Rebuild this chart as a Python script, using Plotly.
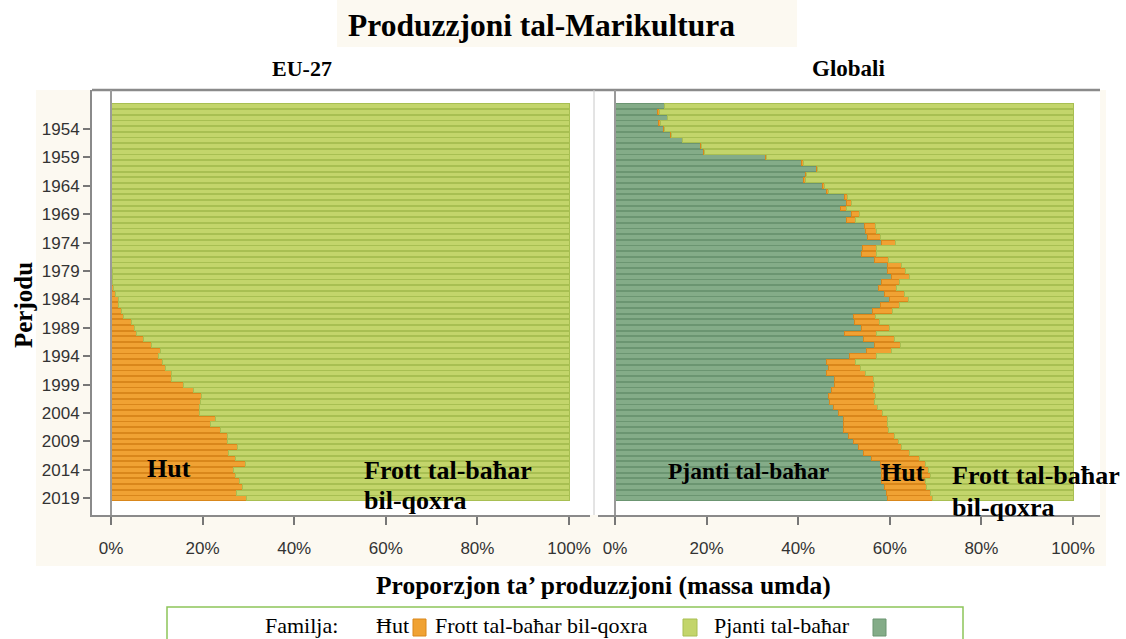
import plotly.graph_objects as go

# ---------------- data ----------------
years = list(range(1950, 2020))
tick_years = list(range(1954, 2020, 5))
x_ticks = [0, 20, 40, 60, 80, 100]
x_tick_labels = ["0%", "20%", "40%", "60%", "80%", "100%"]

series_names = ["Ħut", "Frott tal-baħar bil-qoxra", "Pjanti tal-baħar"]

# EU-27 shares (%)
eu_hut = [0.0] * 29 + [
    0.3, 0.3, 0.4, 0.5, 0.9, 1.6, 1.7, 2.3, 2.7, 4.4,
    5.2, 5.6, 7.2, 8.9, 10.7, 10.3, 11.3, 11.9, 13.1, 13.2,
    15.8, 18.1, 19.8, 19.6, 19.4, 19.4, 22.9, 21.7, 23.8, 25.5,
    25.5, 27.7, 25.6, 27.1, 29.4, 26.8, 27.1, 28.1, 28.8, 27.5,
    29.6]
eu_pjanti = [0.0] * 70

# Global shares (%)
gl_pjanti = [
    10.7, 9.3, 11.4, 9.5, 10.6, 12.2, 14.8, 18.6, 19.3, 32.8,
    40.8, 44.0, 41.5, 41.1, 45.3, 46.1, 50.0, 50.5, 49.2, 51.7,
    50.6, 54.4, 54.6, 55.2, 58.2, 54.0, 53.8, 56.7, 59.5, 59.5,
    60.4, 58.2, 57.5, 58.8, 60.0, 57.9, 56.2, 52.0, 52.3, 53.9,
    50.1, 54.2, 56.6, 54.9, 51.3, 46.2, 46.7, 46.2, 48.0, 48.0,
    47.3, 46.6, 46.9, 47.7, 48.8, 49.9, 49.9, 49.9, 50.9, 52.0,
    53.1, 54.2, 56.0, 57.9, 58.2, 58.2, 58.2, 58.9, 59.3, 59.6]
gl_hut = [
    0.0, 0.4, 0.0, 0.4, 0.2, 0.2, 0.0, 0.2, 0.2, 0.2,
    0.4, 0.2, 0.4, 0.4, 0.4, 0.5, 0.7, 1.1, 1.4, 1.6,
    1.9, 2.4, 2.6, 2.8, 3.1, 3.1, 3.3, 3.1, 3.0, 3.9,
    3.8, 3.9, 4.0, 4.3, 4.1, 4.2, 4.4, 4.9, 5.5, 6.0,
    7.1, 6.9, 5.7, 5.4, 5.8, 6.4, 7.0, 8.4, 8.4, 8.7,
    9.1, 10.2, 9.8, 9.6, 9.5, 9.5, 9.7, 9.8, 10.2, 9.8,
    9.5, 10.2, 10.4, 9.8, 10.2, 10.6, 9.5, 9.1, 9.5, 9.8]

eu_frott = [round(100 - h - p, 2) for h, p in zip(eu_hut, eu_pjanti)]
gl_frott = [round(100 - h - p, 2) for h, p in zip(gl_hut, gl_pjanti)]

# ---------------- style ----------------
W, H = 1126, 639
ML, MR, MT, MB = 92, 26, 90, 124
PW, PH = W - ML - MR, H - MT - MB

def px(x):
    return (x - ML) / PW

def py(y):
    return (H - MB - y) / PH

fill = {"Ħut": "#F0A233", "Frott tal-baħar bil-qoxra": "#C3D56B", "Pjanti tal-baħar": "#84AC88"}
edge = {"Ħut": "#D9871B", "Frott tal-baħar bil-qoxra": "#A8BF52", "Pjanti tal-baħar": "#6B9571"}

SERIF = "Liberation Serif, Times New Roman, serif"
SANS = "Liberation Sans Narrow, Arial Narrow, Liberation Sans, Arial, sans-serif"

fig = go.Figure()

def add_panel(xa, ya, pj, hu, fr):
    for name, vals in [("Pjanti tal-baħar", pj), ("Ħut", hu), ("Frott tal-baħar bil-qoxra", fr)]:
        fig.add_trace(go.Bar(
            y=years, x=vals, orientation="h", name=name, xaxis=xa, yaxis=ya,
            marker=dict(color=fill[name], line=dict(color=edge[name], width=1)),
            showlegend=False, hoverinfo="x+y+name"))

add_panel("x", "y", eu_pjanti, eu_hut, eu_frott)
add_panel("x2", "y2", gl_pjanti, gl_hut, gl_frott)

axis_common = dict(
    tickvals=x_ticks, ticktext=x_tick_labels, ticks="outside", ticklen=8,
    tickcolor="#777777", tickwidth=1.5, showline=True, linecolor="#8A8A8A", linewidth=2,
    showgrid=False, zeroline=False, ticklabelstandoff=9,
    tickfont=dict(family=SANS, size=17, color="#333333"))

fig.update_layout(
    width=W, height=H, autosize=False,
    margin=dict(l=ML, r=MR, t=MT, b=MB),
    paper_bgcolor="white", plot_bgcolor="white",
    barmode="stack", bargap=0.14,
    xaxis=dict(domain=[0, 498 / PW], range=[-19 / 4.58, 479 / 4.58], anchor="y", **axis_common),
    xaxis2=dict(domain=[506 / PW, 1], range=[-17 / 4.58, 485 / 4.58], anchor="y2", **axis_common),
    yaxis=dict(range=[2021.95, 1947.13], tickvals=tick_years, ticks="outside", ticklen=7,
               tickcolor="#777777", tickwidth=1.5, showline=True, linecolor="#8A8A8A", linewidth=2,
               showgrid=False, zeroline=False, anchor="x",
               tickfont=dict(family=SANS, size=17, color="#333333")),
    yaxis2=dict(range=[2021.95, 1947.13], matches="y", anchor="x2", showticklabels=False,
                ticks="", showline=False, showgrid=False, zeroline=False),
)

shapes = []
# background panels
shapes.append(dict(type="rect", xref="paper", yref="paper", layer="below",
                   x0=px(36), x1=px(1106), y0=py(90), y1=py(566),
                   fillcolor="#FCF9F1", line=dict(width=0)))
shapes.append(dict(type="rect", xref="paper", yref="paper", layer="below",
                   x0=px(92), x1=px(1100), y0=py(90), y1=py(515),
                   fillcolor="white", line=dict(width=0)))
shapes.append(dict(type="rect", xref="paper", yref="paper", layer="below",
                   x0=px(337), x1=px(797), y0=py(0), y1=py(47),
                   fillcolor="#FCF9F1", line=dict(width=0)))
# frame lines
shapes.append(dict(type="line", xref="paper", yref="paper", x0=px(92), x1=px(1100),
                   y0=py(90), y1=py(90), line=dict(color="#8A8A8A", width=2.5)))
shapes.append(dict(type="line", xref="paper", yref="paper", x0=px(594), x1=px(594),
                   y0=py(90), y1=py(515), line=dict(color="#C8C8C8", width=1)))
for xa in ["x", "x2"]:
    shapes.append(dict(type="line", xref=xa, yref="paper", x0=0, x1=0, y0=0, y1=1,
                       line=dict(color="#9A9A9A", width=2)))
# legend box
shapes.append(dict(type="rect", xref="paper", yref="paper", x0=px(167), x1=px(963),
                   y0=py(607), y1=py(650), fillcolor="white",
                   line=dict(color="#8DC55A", width=1.5)))
for name, (a, b) in zip(series_names, [(413, 426), (683, 697), (873, 886)]):
    shapes.append(dict(type="rect", xref="paper", yref="paper", x0=px(a), x1=px(b),
                       y0=py(619), y1=py(636), fillcolor=fill[name],
                       line=dict(color=edge[name], width=1)))
fig.update_layout(shapes=shapes)

ann = []
def txt(text, x, y, size, bold=True, xanchor="center", angle=0, align="center"):
    ann.append(dict(text=text, x=px(x), y=py(y), xref="paper", yref="paper",
                    xanchor=xanchor, yanchor="middle", showarrow=False, textangle=angle,
                    align=align,
                    font=dict(family=SERIF, size=size, color="black",
                              weight="bold" if bold else "normal")))

txt("Produzzjoni tal-Marikultura", 541, 25, 31.5)
txt("EU-27", 302, 68, 22)
txt("Globali", 848, 68, 23)
txt("Perjodu", 23, 305, 25, angle=-90)
txt("Proporzjon ta’ produzzjoni (massa umda)", 603, 585, 25.5)
txt("Hut", 169, 468, 26)
txt("Frott tal-baħar", 362, 470, 26, xanchor="left")
txt("bil-qoxra", 362, 500, 26, xanchor="left")
txt("Pjanti tal-baħar", 748, 471, 23.5)
txt("Ħut", 903, 472, 26)
txt("Frott tal-baħar", 950, 475, 26, xanchor="left")
txt("bil-qoxra", 950, 507, 26, xanchor="left")
# legend texts
txt("Familja:", 263, 625, 22, bold=False, xanchor="left")
txt(series_names[0], 374, 625, 22, bold=False, xanchor="left")
txt(series_names[1], 433, 625, 22, bold=False, xanchor="left")
txt(series_names[2], 712, 625, 22, bold=False, xanchor="left")
fig.update_layout(annotations=ann)

fig.write_html("out.html", config={"displayModeBar": False},
               post_script="document.body.style.margin='0px';")
